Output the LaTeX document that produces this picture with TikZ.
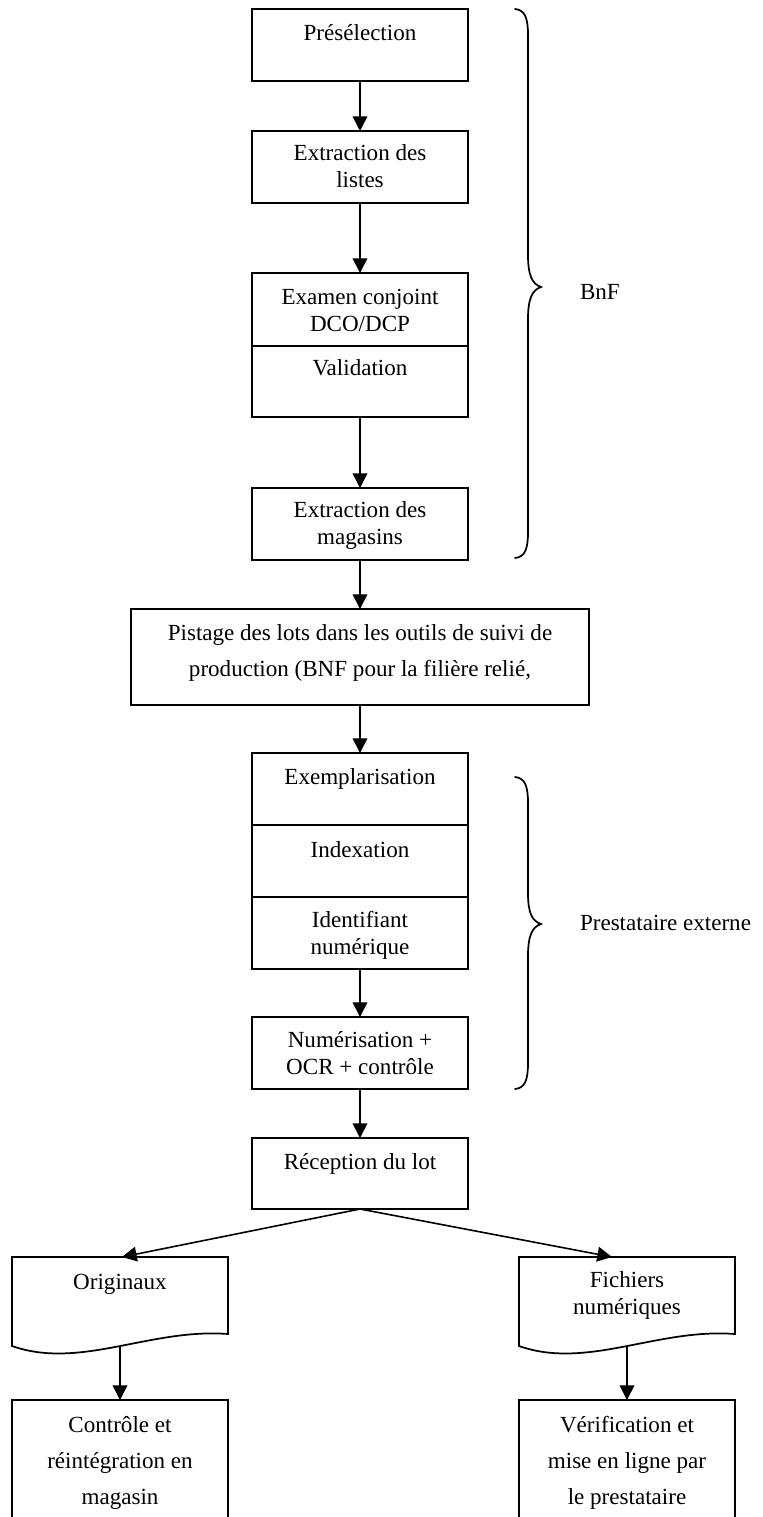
\documentclass[tikz,border=0pt]{standalone}
\usepackage{fontspec}
\setmainfont{Liberation Serif}
\usetikzlibrary{arrows.meta}
\newcommand\ml[2][1]{{\renewcommand\arraystretch{#1}\begin{tabular}[t]{@{}c@{}}#2\end{tabular}}}
\def\px{0.75pt}
\tikzset{
  box/.style={draw, line width=1.5pt, minimum width=216*\px, minimum height=72*\px, inner sep=0pt, outer sep=0pt},
  docarea/.style={inner sep=0pt, outer sep=0pt, minimum width=216*\px, minimum height=77*\px},
  docline/.style={line width=1.3pt, line join=miter},
  lbl/.style={font=\fontsize{17.3}{20.25}\selectfont, anchor=base, inner sep=0pt, outer sep=0pt},
  arr/.style={line width=1.2pt, -{Triangle[width=11pt,length=11pt]}},
  bracepath/.style={line width=1.3pt, line cap=round}
}
\begin{document}
\begin{tikzpicture}[x=0.75pt,y=-0.75pt]
\clip (0,0) rectangle (763,1517);
% boxes
\node[box] (pre) at (360,45) {};
\node[box] (ext1) at (360,167) {};
\node[box, minimum height=73*\px] (exam) at (360,309.5) {};
\node[box, minimum height=71*\px] (valid) at (360,381.5) {};
\node[box] (ext2) at (360,524) {};
\node[box, minimum width=458*\px, minimum height=96*\px] (pist) at (360,657) {};
\node[box] (expl) at (360,789) {};
\node[box] (idx) at (360,861) {};
\node[box] (ident) at (360,933) {};
\node[box] (num) at (360,1053) {};
\node[box, minimum height=71*\px] (rec) at (360,1173.5) {};
\node[box, minimum height=140*\px] (ctrl) at (120,1470) {};
\node[box, minimum height=140*\px] (verif) at (627,1470) {};
% document shapes
\node[docarea] (orig) at (120,1295.5) {};
\node[docarea] (fich) at (627,1295.5) {};
\draw[docline] (orig.north west) -- (orig.north east) -- (228,1334)
  .. controls (150,1328) and (80,1370) .. (12,1346) -- cycle;
\draw[docline] (fich.north west) -- (fich.north east) -- (735,1334)
  .. controls (657,1328) and (587,1370) .. (519,1346) -- cycle;
\coordinate (otop) at (122,1257);
\coordinate (ftop) at (612,1257);
\coordinate (obot) at (120,1347);
\coordinate (fbot) at (627,1347);
% texts
\node[lbl] (tpre) at (360,40) {Présélection};
\node[lbl] (text1) at (360,160) {\ml{Extraction des\\listes}};
\node[lbl] (texam) at (360,304) {\ml{Examen conjoint\\DCO/DCP}};
\node[lbl] (tvalid) at (360,375) {Validation};
\node[lbl] (text2) at (360,517) {\ml{Extraction des\\magasins}};
\node[lbl] (tpist) at (360,640) {\ml[1.37]{Pistage des lots dans les outils de suivi de\\production (BNF pour la filière relié,}};
\node[lbl] (texpl) at (360,784) {Exemplarisation};
\node[lbl] (tidx) at (360,857) {Indexation};
\node[lbl] (tident) at (360,927) {\ml{Identifiant\\numérique}};
\node[lbl] (tnum) at (360,1047) {\ml{Numérisation +\\OCR + contrôle}};
\node[lbl] (trec) at (360,1169) {Réception du lot};
\node[lbl] (torig) at (120,1289) {Originaux};
\node[lbl] (tfich) at (627,1287) {\ml{Fichiers\\numériques}};
\node[lbl] (tctrl) at (120,1432) {\ml[1.35]{Contrôle et\\réintégration en\\magasin}};
\node[lbl] (tverif) at (627,1432) {\ml[1.35]{Vérification et\\mise en ligne par\\le prestataire}};
\node[lbl, anchor=base west] (bnf) at (580,299) {BnF};
\node[lbl, anchor=base west] (prest) at (580,930) {Prestataire externe};
% braces
\draw[bracepath] (515,9) .. controls (525,10) and (528,18) .. (528,35) -- (528,255)
  .. controls (528,275) and (532,284) .. (541,287)
  .. controls (532,290) and (528,299) .. (528,319) -- (528,532)
  .. controls (528,549) and (525,557) .. (515,558);
\draw[bracepath] (515,777) .. controls (525,778) and (528,786) .. (528,803) -- (528,893)
  .. controls (528,913) and (532,921) .. (541,924)
  .. controls (532,927) and (528,936) .. (528,956) -- (528,1063)
  .. controls (528,1080) and (525,1088) .. (515,1089);
% arrows
\draw[arr] (pre.south) -- (ext1.north);
\draw[arr] (ext1.south) -- (exam.north);
\draw[arr] (valid.south) -- (ext2.north);
\draw[arr] (ext2.south) -- (pist.north);
\draw[arr] (pist.south) -- (expl.north);
\draw[arr] (ident.south) -- (num.north);
\draw[arr] (num.south) -- (rec.north);
\draw[arr] (rec.south) -- (otop);
\draw[arr] (rec.south) -- (ftop);
\draw[arr] (obot) -- (ctrl.north);
\draw[arr] (fbot) -- (verif.north);
\end{tikzpicture}
\end{document}
